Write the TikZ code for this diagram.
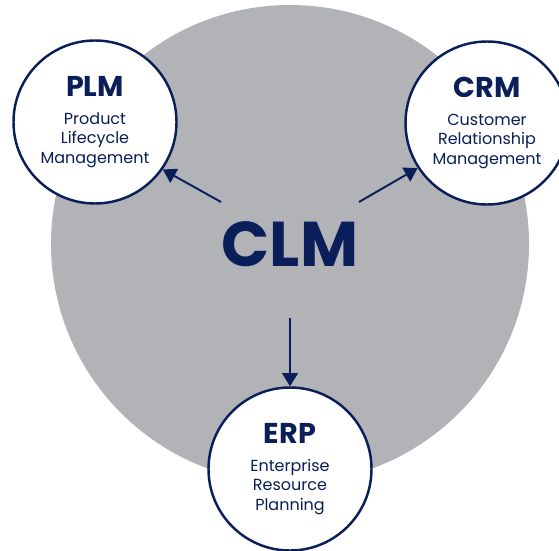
\documentclass[tikz,border=0pt]{standalone}
\usepackage{fontspec}
\setmainfont{Poppins}
\usepackage{xcolor}
\usepackage{tikz}
\usetikzlibrary{arrows.meta}
\definecolor{navy}{HTML}{0A1E5A}
\definecolor{disc}{HTML}{B1B3B6}
\tikzset{
  hub/.style={circle, draw=navy, fill=white, line width=1.4pt, minimum size=3.26cm,
    inner sep=0pt, align=center, text=navy, font=\fontsize{9.1}{11.3}\selectfont},
  core/.style={text=navy, font=\fontsize{36}{40}\selectfont\bfseries, inner sep=0pt},
  link/.style={draw=navy, line width=1.1pt, -{Triangle[length=7.5pt,width=9pt]}},
}
\newcommand{\hubtitle}[1]{{\fontsize{16.3}{18}\selectfont\bfseries #1}\\[4.6pt]}

\begin{document}
\begin{tikzpicture}
  \useasboundingbox (0,0) rectangle (11.18,-11);
  \fill[disc] (5.8,-4.88) circle (4.78);
  \node[core] (CLM) at (5.8,-4.89) {CLM};
  \node[hub] (PLM) at (1.9,-2.44) {\hubtitle{PLM}Product\\Lifecycle\\Management};
  \node[hub] (CRM) at (9.74,-2.46) {\hubtitle{CRM}Customer\\Relationship\\Management};
  \node[hub] (ERP) at (5.8,-9.38) {\hubtitle{ERP}Enterprise\\Resource\\Planning};
  \coordinate (toPLM) at (4.42,-4.04);
  \coordinate (toCRM) at (7.18,-4.04);
  \coordinate (toERP) at (5.8,-6.36);
  \draw[link] (toPLM) -- (PLM.-35);
  \draw[link] (toCRM) -- (CRM.213);
  \draw[link] (toERP) -- (ERP.north);
\end{tikzpicture}
\end{document}
